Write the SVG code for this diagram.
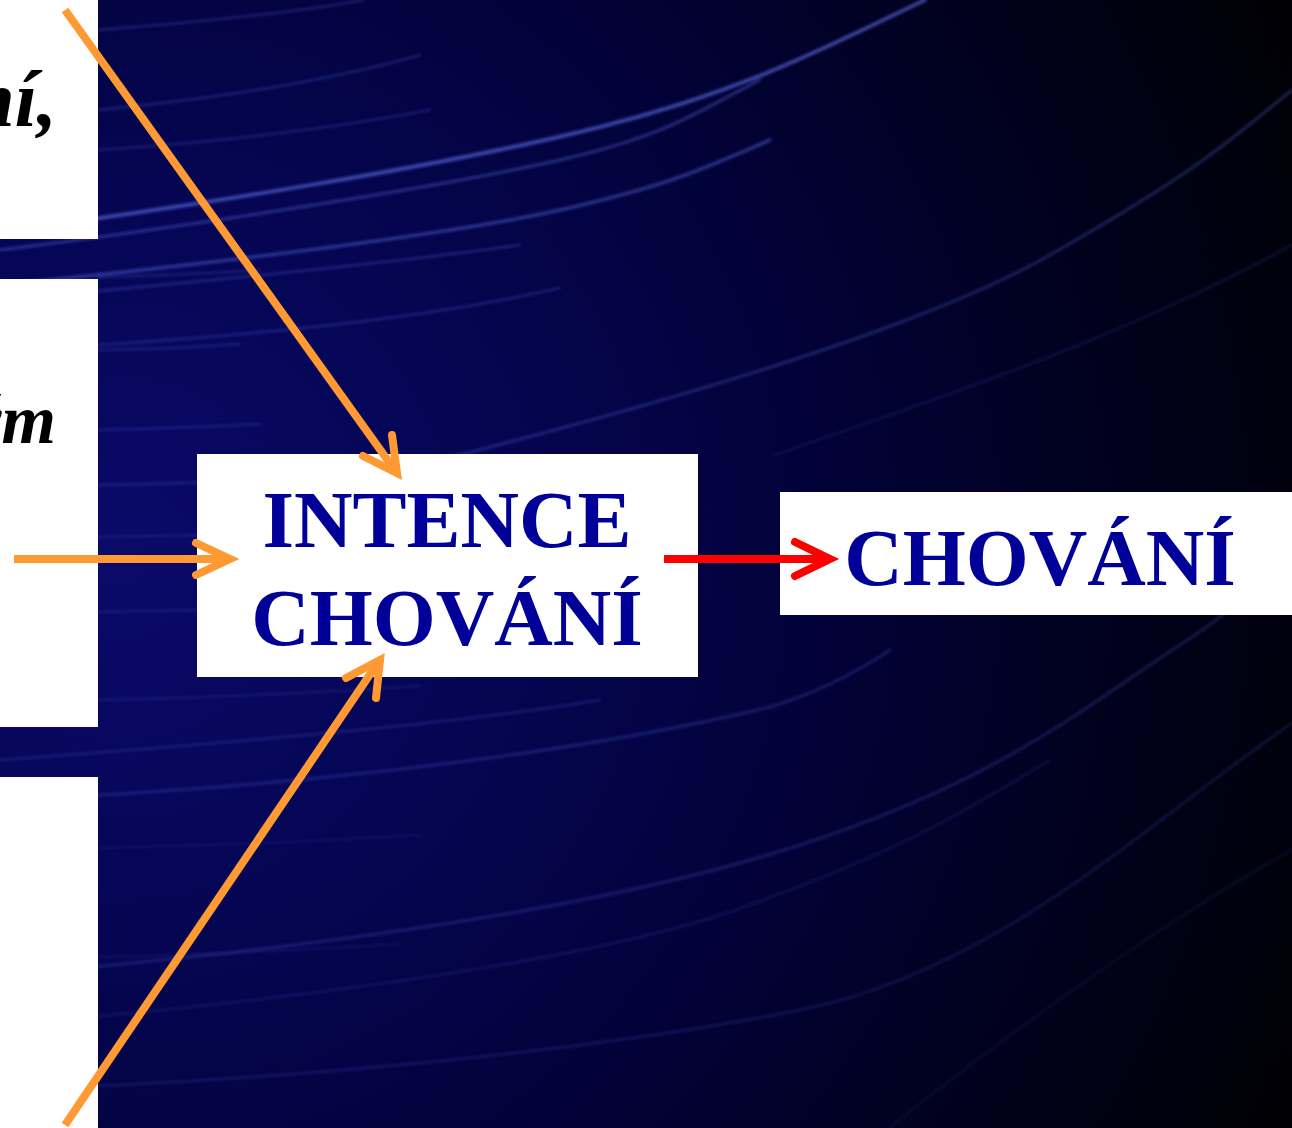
<svg xmlns="http://www.w3.org/2000/svg" width="1292" height="1128" viewBox="0 0 1292 1128">
  <defs>
    <radialGradient id="bg" cx="120" cy="560" r="1300" gradientUnits="userSpaceOnUse">
      <stop offset="0" stop-color="#0a0a6a"/>
      <stop offset="0.3" stop-color="#050552"/>
      <stop offset="0.55" stop-color="#020238"/>
      <stop offset="0.8" stop-color="#01011a"/>
      <stop offset="1" stop-color="#000003"/>
    </radialGradient>
    <filter id="soft" x="-5%" y="-5%" width="110%" height="110%">
      <feGaussianBlur stdDeviation="1.4"/>
    </filter>
  </defs>
  <style>
    .streak { fill: none; stroke: #5566d8; stroke-linecap: round; }
    .box { fill: #ffffff; }
    .lbl { font-family: "Liberation Serif", "Times New Roman", serif; font-weight: bold; fill: #000099; font-size: 81px; text-anchor: middle; }
    .side { font-family: "Liberation Serif", "Times New Roman", serif; font-weight: bold; font-style: italic; fill: #000000; text-anchor: end; }
    .orange { fill: none; stroke: #ff9933; stroke-width: 8; }
    .red { fill: none; stroke: #ff0000; stroke-width: 8; }
    .head { stroke-linecap: round; stroke-linejoin: miter; stroke-miterlimit: 10; }
  </style>

  <!-- background -->
  <rect x="0" y="0" width="1292" height="1128" fill="url(#bg)"/>
  <g id="streaks" filter="url(#soft)">
    <path class="streak" stroke-width="3.5" opacity="0.75" d="M0 232 C 200 205, 450 165, 600 127 S 830 45, 925 0"/>
    <path class="streak" stroke-width="2.5" opacity="0.5" d="M0 250 C 200 225, 450 185, 560 160 S 700 110, 760 80"/>
    <path class="streak" stroke-width="3" opacity="0.55" d="M0 285 C 200 265, 450 235, 560 210 S 700 170, 770 140"/>
    <path class="streak" stroke-width="2" opacity="0.4" d="M0 300 C 200 282, 400 262, 520 245"/>
    <path class="streak" stroke-width="2" opacity="0.35" d="M98 345 C 250 335, 420 320, 560 288"/>
    <path class="streak" stroke-width="2.5" opacity="0.4" d="M400 470 C 600 420, 900 340, 1050 255 S 1230 140, 1292 90"/>
    <path class="streak" stroke-width="2" opacity="0.2" d="M775 455 C 900 410, 1100 350, 1292 245"/>
    <path class="streak" stroke-width="2" opacity="0.35" d="M98 30 C 200 22, 300 12, 363 0"/>
    <path class="streak" stroke-width="2" opacity="0.35" d="M98 110 C 250 95, 350 75, 420 55"/>
    <path class="streak" stroke-width="2" opacity="0.3" d="M98 150 C 250 140, 350 125, 430 110"/>
    <path class="streak" stroke-width="2.5" opacity="0.3" d="M0 975 C 300 950, 600 910, 800 845 S 1080 710, 1180 645 S 1270 560, 1292 530"/>
    <path class="streak" stroke-width="2" opacity="0.22" d="M0 1025 C 300 1000, 600 960, 750 905 S 950 820, 1050 760"/>
    <path class="streak" stroke-width="2.5" opacity="0.22" d="M0 1090 C 300 1080, 600 1050, 800 1010 S 1150 820, 1292 723"/>
    <path class="streak" stroke-width="2" opacity="0.3" d="M0 760 C 200 745, 450 725, 600 700"/>
    <path class="streak" stroke-width="2.5" opacity="0.32" d="M0 800 C 250 790, 550 760, 770 707 C 820 692, 860 670, 890 650"/>
    <path class="streak" stroke-width="2" opacity="0.15" d="M889 1128 C 1050 1000, 1200 900, 1292 850"/>
    <path class="streak" stroke-width="2" opacity="0.3" d="M98 277 C 150 276, 200 274, 260 270"/>
    <path class="streak" stroke-width="2" opacity="0.3" d="M98 350 C 150 349, 200 347, 240 344"/>
    <path class="streak" stroke-width="2" opacity="0.3" d="M98 430 C 150 429, 200 427, 260 424"/>
    <path class="streak" stroke-width="2" opacity="0.3" d="M98 485 C 150 484, 190 483, 200 482"/>
    <path class="streak" stroke-width="2" opacity="0.25" d="M98 537 C 150 536, 190 535, 200 535"/>
    <path class="streak" stroke-width="2" opacity="0.25" d="M98 612 C 150 611, 190 610, 200 610"/>
    <path class="streak" stroke-width="2" opacity="0.22" d="M98 700 C 200 698, 300 694, 420 686"/>
    <path class="streak" stroke-width="2" opacity="0.15" d="M98 848 C 200 846, 300 842, 420 835"/>
    <path class="streak" stroke-width="2" opacity="0.15" d="M98 957 C 200 955, 300 950, 400 944"/>
  </g>

  <!-- left partial boxes -->
  <g id="node-left-top">
    <rect class="box" x="0" y="0" width="98" height="239"/>
    <text class="side" x="57" y="126" font-size="80">ní,</text>
  </g>
  <g id="node-left-middle">
    <rect class="box" x="0" y="279" width="98" height="448"/>
    <text class="side" x="56" y="443" font-size="70">ým</text>
  </g>
  <g id="node-left-bottom">
    <rect class="box" x="0" y="777" width="98" height="351"/>
  </g>

  <!-- main nodes -->
  <g id="node-intence">
    <rect class="box" x="197" y="454" width="501" height="223"/>
    <text class="lbl" x="447" y="547">INTENCE</text>
    <text class="lbl" x="447" y="645">CHOVÁNÍ</text>
  </g>
  <g id="node-chovani">
    <rect class="box" x="780" y="492" width="512" height="123"/>
    <text class="lbl" x="1040" y="585">CHOVÁNÍ</text>
  </g>

  <!-- connectors -->
  <g id="connectors">
    <line class="orange" x1="65" y1="10" x2="394" y2="469"/>
    <polyline class="orange head" points="363,456 397,473 392,435"/>
    <line class="orange" x1="14" y1="559" x2="226" y2="559"/>
    <polyline class="orange head" points="196,543 230,559 196,575"/>
    <line class="orange" x1="65" y1="1125" x2="377" y2="664"/>
    <polyline class="orange head" points="346,678 380,660 376,698"/>
    <line class="red" x1="664" y1="559" x2="826" y2="559"/>
    <polyline class="red head" points="795,542 830,559 795,576"/>
  </g>
</svg>
